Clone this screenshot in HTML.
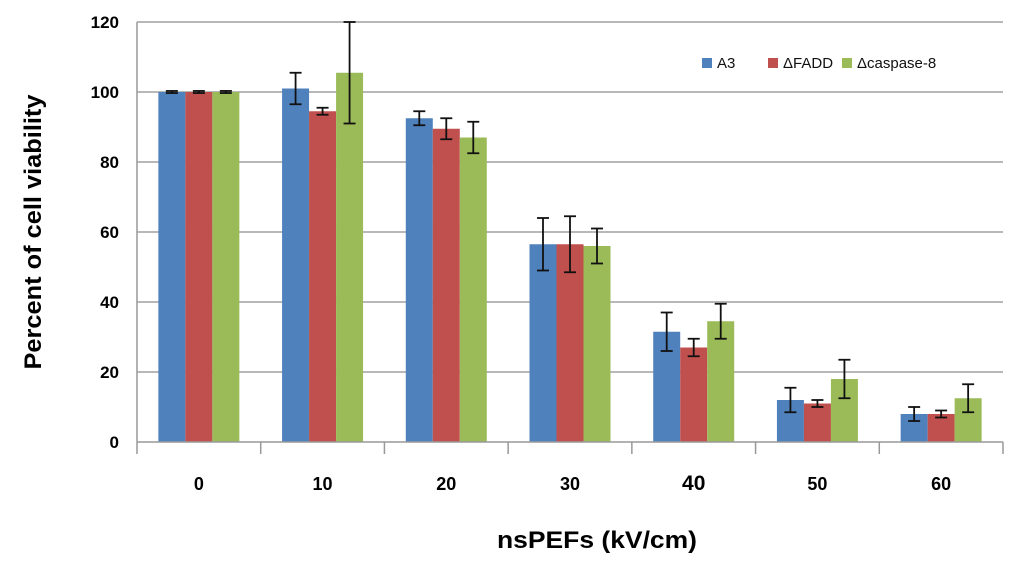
<!DOCTYPE html>
<html><head><meta charset="utf-8"><style>
body{margin:0;background:#fff;}
svg text{font-family:"Liberation Sans",sans-serif;}
</style></head><body>
<svg id="chart" width="1024" height="566" xmlns="http://www.w3.org/2000/svg"></svg>
<script>
const categories=["0","10","20","30","40","50","60"];
const seriesNames=["A3","\u0394FADD","\u0394caspase-8"];
const a3=[100,101,92.5,56.5,31.5,12,8];
const fadd=[100,94.5,89.5,56.5,27,11,8];
const casp=[100,105.5,87,56,34.5,18,12.5];
const a3Err=[0.3,4.5,2,7.5,5.5,3.5,2];
const faddErr=[0.3,1,3,8,2.5,1,1];
const caspErr=[0.3,14.5,4.5,5,5,5.5,4];
const yTicks=[0,20,40,60,80,100,120];
const colors=["#4f81bd","#c0504d","#9bbb59"];
const NS="http://www.w3.org/2000/svg";
const svg=document.getElementById('chart');
const L=137,R=1003,T=22,B=442,yMax=120;
const y=v=>B-(v/yMax)*(B-T);
const bw=(R-L)/categories.length;
const x=i=>L+bw*i+bw/2;
function el(t,a,p){const e=document.createElementNS(NS,t);for(const k in a)e.setAttribute(k,a[k]);(p||svg).appendChild(e);return e;}
yTicks.forEach(v=>{
 if(v>0){const g=el('line',{x1:L,x2:R,y1:y(v),y2:y(v),stroke:'#b8b8b8','stroke-width':2});
 
 }
 const t=el('text',{x:L-18,y:y(v)+6,'text-anchor':'end','font-size':17,'font-weight':'bold',fill:'#000'});t.textContent=v;
 
 
});
const yax=el('line',{x1:L,x2:L,y1:T,y2:B,stroke:'#999','stroke-width':1.5});


const series=[[a3,a3Err],[fadd,faddErr],[casp,caspErr]];
const barW=27;
categories.forEach((c,i)=>{
 series.forEach((s,j)=>{
  const bx=x(i)-barW*1.5+barW*j;
  const r=el('rect',{x:bx,y:y(s[0][i]),width:barW,height:B-y(s[0][i]),fill:colors[j]});
  
  
  const cx=bx+barW/2,hi=y(s[0][i]+s[1][i]),lo=y(s[0][i]-s[1][i]);
  const g=el('g',{stroke:'#111','stroke-width':1.8});
  
  
  el('line',{x1:cx,x2:cx,y1:hi,y2:lo},g);
  el('line',{x1:cx-6,x2:cx+6,y1:hi,y2:hi},g);
  el('line',{x1:cx-6,x2:cx+6,y1:lo,y2:lo},g);
 });
 const t=el('text',{x:x(i),y:490,'text-anchor':'middle','font-size':c==="40"?21:18,'font-weight':'bold'});t.textContent=c;
 
 
});
for(let i=0;i<=categories.length;i++){
 const tk=el('line',{x1:L+bw*i,x2:L+bw*i,y1:B,y2:B+12,stroke:'#999','stroke-width':1.5});
 
 
}
const xax=el('line',{x1:L,x2:R,y1:B,y2:B,stroke:'#999','stroke-width':1.5});


const xt=el('text',{x:597,y:548,'text-anchor':'middle','font-size':24,'font-weight':'bold',textLength:200,lengthAdjust:'spacingAndGlyphs'});xt.textContent="nsPEFs (kV/cm)";


const yt=el('text',{x:0,y:0,'text-anchor':'middle','font-size':24,'font-weight':'bold',textLength:275,lengthAdjust:'spacingAndGlyphs',transform:'translate(41,232) rotate(-90)'});yt.textContent="Percent of cell viability";


const lx=[702,768,842];
seriesNames.forEach((n,j)=>{
 const g=el('g',{});
 
 
 el('rect',{x:lx[j],y:58,width:10,height:10,fill:colors[j]},g);
 const t=el('text',{x:lx[j]+15,y:68,'font-size':15,fill:'#111'},g);t.textContent=n;
});
</script>
</body></html>
